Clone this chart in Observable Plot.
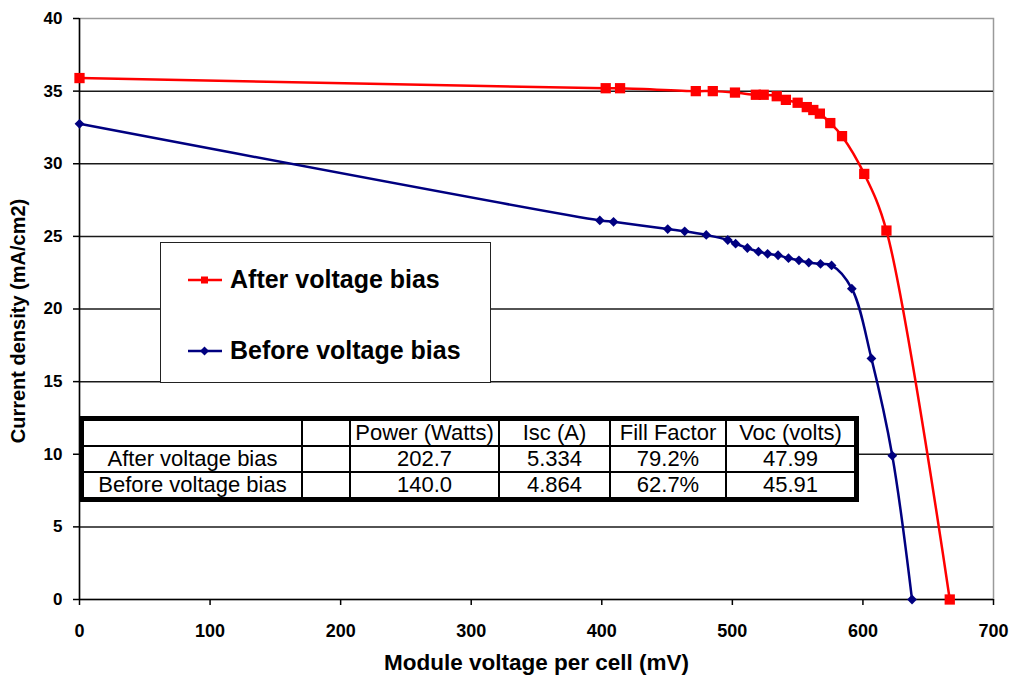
<!DOCTYPE html>
<html>
<head>
<meta charset="utf-8">
<script src="https://cdn.jsdelivr.net/npm/d3@7"></script>
<script src="https://cdn.jsdelivr.net/npm/@observablehq/plot@0.6"></script>
<style>
  body { margin: 0; background: #fff; }
  #wrap { position: relative; width: 1012px; height: 679px; font-family: "Liberation Sans", Arial, sans-serif; }
  #legend { position: absolute; left: 160px; top: 242px; width: 331px; height: 141px; background: #fff; border: 1px solid #222; box-sizing: border-box; }
  #legend .row { position: absolute; left: 26px; display: flex; align-items: center; font-size: 25px; font-weight: bold; color: #000; }
  #legend svg { margin-right: 7px; }
  #stats { position: absolute; left: 79px; top: 416px; border: 5px solid #000; background: #fff; }
  #stats table { border-collapse: collapse; font-size: 22px; color: #000; table-layout: fixed; }
  #stats td { border: 2px solid #000; text-align: center; padding: 0; height: 24px; line-height: 22px; overflow: hidden; white-space: nowrap; }
  #stats tr:first-child td { border-top: none; }
  #stats tr:last-child td { border-bottom: none; }
  #stats td:first-child { border-left: none; }
  #stats td:last-child { border-right: none; }
</style>
</head>
<body>
<div id="wrap"></div>
<script>
// Current density vs. module voltage per cell, before and after voltage bias
const afterVoltage = [0, 403, 414, 472, 485, 502, 518, 524, 534, 541, 550, 557, 562, 567, 575, 584, 601, 618, 666.5];
const afterCurrent = [35.9, 35.2, 35.2, 35.0, 35.0, 34.9, 34.75, 34.75, 34.65, 34.4, 34.2, 33.9, 33.7, 33.45, 32.8, 31.9, 29.3, 25.4, 0];

const beforeVoltage = [0, 398.5, 409, 450.5, 463.5, 480, 496.5, 502.5, 511.5, 520, 527, 535, 543, 551, 558.5, 567.5, 576, 591.5, 606.5, 622.5, 637.6];
const beforeCurrent = [32.75, 26.1, 26.0, 25.5, 25.35, 25.1, 24.75, 24.5, 24.2, 23.95, 23.8, 23.7, 23.5, 23.35, 23.2, 23.1, 23.0, 21.4, 16.6, 9.9, 0];

const seriesNames = ["After voltage bias", "Before voltage bias"];
const seriesColors = ["#ff0000", "#000080"];

const xTicks = [0, 100, 200, 300, 400, 500, 600, 700];
const yTicks = [0, 5, 10, 15, 20, 25, 30, 35, 40];

const tableHeader = ["", "", "Power (Watts)", "Isc (A)", "Fill Factor", "Voc (volts)"];
const tableRows = [
  ["After voltage bias", "", "202.7", "5.334", "79.2%", "47.99"],
  ["Before voltage bias", "", "140.0", "4.864", "62.7%", "45.91"]
];
const columnWidths = [217, 46, 147, 109, 114, 127];

const afterData = afterVoltage.map((v, i) => ({v, j: afterCurrent[i]}));
const beforeData = beforeVoltage.map((v, i) => ({v, j: beforeCurrent[i]}));

// Excel-style diamond: a square turned 45 degrees
const diamond = {
  draw(context, size) {
    const s = Math.sqrt(size / 2);
    context.moveTo(0, -s);
    context.lineTo(s, 0);
    context.lineTo(0, s);
    context.lineTo(-s, 0);
    context.closePath();
  }
};

const chart = Plot.plot({
  width: 1012,
  height: 679,
  marginLeft: 79,
  marginRight: 19,
  marginTop: 18,
  marginBottom: 80,
  style: {fontFamily: "'Liberation Sans', Arial, sans-serif", background: "#fff", color: "#000"},
  x: {domain: [0, 700]},
  y: {domain: [0, 40]},
  marks: [
    Plot.frame({stroke: "#9a9a9a", strokeWidth: 1.5}),
    Plot.gridY(yTicks.filter(t => t > 0 && t < 40), {stroke: "#1a1a1a", strokeOpacity: 1, strokeWidth: 1.5}),
    Plot.axisY(yTicks, {tickSize: 6, tickPadding: 11, fontSize: 17, fontWeight: "bold", label: null, strokeWidth: 1.5}),
    Plot.axisX(xTicks, {tickSize: 6, tickPadding: 19, fontSize: 18, fontWeight: "bold", label: null, strokeWidth: 1.5}),
    Plot.ruleX([0], {stroke: "#000", strokeWidth: 1.5}),
    Plot.ruleY([0], {stroke: "#000", strokeWidth: 1.5}),
    Plot.text(["Module voltage per cell (mV)"], {frameAnchor: "bottom", dy: 70, fontSize: 22.5, fontWeight: "bold"}),
    Plot.text(["Current density (mA/cm2)"], {frameAnchor: "left", textAnchor: "middle", dx: -61, dy: 12, rotate: -90, fontSize: 20, fontWeight: "bold"}),
    Plot.line(afterData, {x: "v", y: "j", stroke: seriesColors[0], strokeWidth: 2.5, curve: "catmull-rom"}),
    Plot.dot(afterData, {x: "v", y: "j", symbol: "square", r: 5.8, fill: seriesColors[0], stroke: "none"}),
    Plot.line(beforeData, {x: "v", y: "j", stroke: seriesColors[1], strokeWidth: 2.5, curve: "catmull-rom"}),
    Plot.dot(beforeData, {x: "v", y: "j", symbol: diamond, r: 3.9, fill: seriesColors[1], stroke: "none"})
  ]
});

const wrap = document.getElementById("wrap");
wrap.appendChild(chart);

// Legend box
const legend = document.createElement("div");
legend.id = "legend";
const swatchSymbols = ["square", "diamond"];
seriesNames.forEach((name, i) => {
  const row = document.createElement("div");
  row.className = "row";
  row.style.top = (i === 0 ? 22 : 93) + "px";
  const sw = d3.create("svg").attr("width", 36).attr("height", 16);
  sw.append("line").attr("x1", 1).attr("x2", 35).attr("y1", 8).attr("y2", 8)
    .attr("stroke", seriesColors[i]).attr("stroke-width", 2.5);
  if (swatchSymbols[i] === "square") {
    sw.append("rect").attr("x", 14).attr("y", 4.5).attr("width", 7).attr("height", 7).attr("fill", seriesColors[i]);
  } else {
    sw.append("path").attr("d", "M17.5,3.5L22,8L17.5,12.5L13,8Z").attr("fill", seriesColors[i]);
  }
  row.appendChild(sw.node());
  const label = document.createElement("span");
  label.textContent = name;
  row.appendChild(label);
  legend.appendChild(row);
});
wrap.appendChild(legend);

// Summary table of module parameters
const stats = document.createElement("div");
stats.id = "stats";
const table = d3.select(stats).append("table");
[tableHeader, ...tableRows].forEach(r => {
  const tr = table.append("tr");
  r.forEach((cell, k) => tr.append("td").style("width", columnWidths[k] + "px").text(cell));
});
wrap.appendChild(stats);
</script>
</body>
</html>
